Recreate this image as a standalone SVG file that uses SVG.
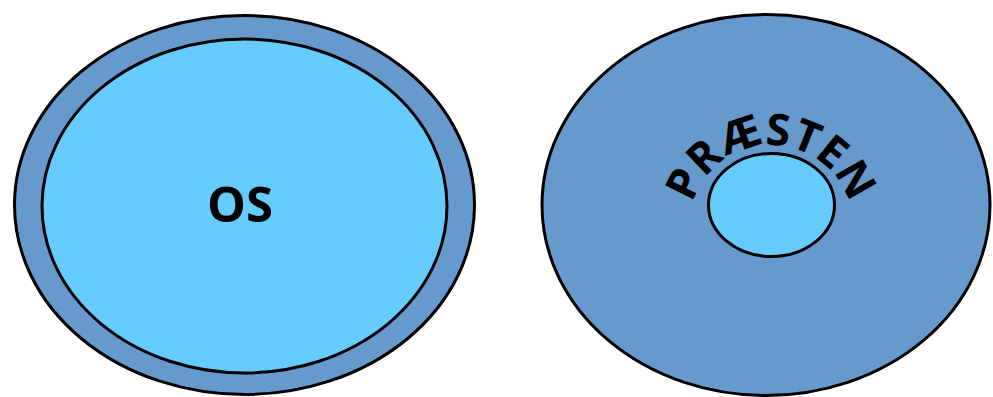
<svg xmlns="http://www.w3.org/2000/svg" width="993" height="397" viewBox="0 0 993 397">
<style>
.outer{fill:#6699CC;stroke:#000;stroke-width:3}
.inner{fill:#66CCFF;stroke:#000;stroke-width:3}
.lbl{font-family:"Open Sans","DejaVu Sans",sans-serif;font-weight:bold;fill:#000}
</style>
<defs>
<path id="arc" d="M 689 227 A 82 82 0 0 1 853 227"/>
</defs>
<g id="os-outer"><ellipse class="outer" cx="244.5" cy="205" rx="230" ry="189.5"/></g>
<g id="os-inner"><ellipse class="inner" cx="244.5" cy="206" rx="202.5" ry="167"/>
<text class="lbl" x="240" y="222" font-size="49" text-anchor="middle">OS</text></g>
<g id="praesten-outer"><ellipse class="outer" cx="766" cy="205" rx="224" ry="190.5"/></g>
<g id="praesten-inner"><ellipse class="inner" cx="771.5" cy="205" rx="63" ry="51.5"/></g>
<g id="praesten-label"><text class="lbl" font-size="44"><textPath href="#arc" startOffset="50%" text-anchor="middle">PRÆSTEN</textPath></text></g>
</svg>
